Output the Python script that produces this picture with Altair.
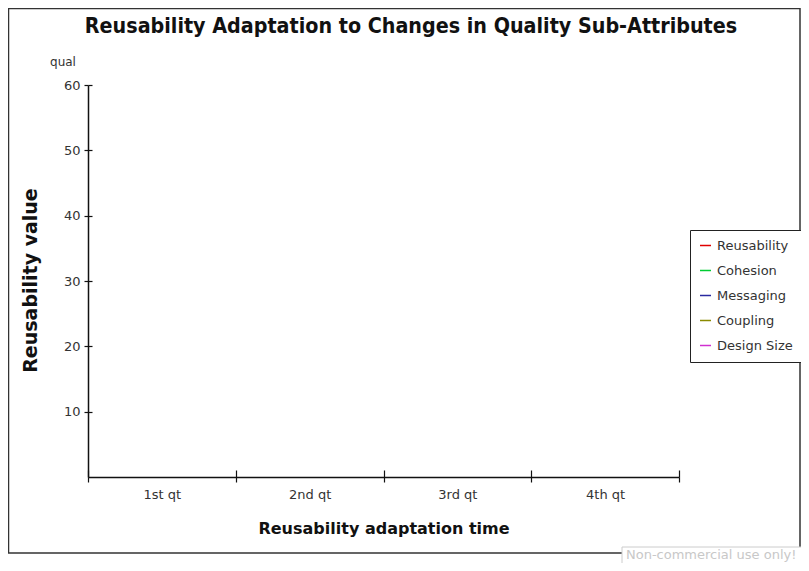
import altair as alt
import pandas as pd

TITLE = "Reusability Adaptation to Changes in Quality Sub-Attributes"
CATEGORIES = ["1st qt", "2nd qt", "3rd qt", "4th qt"]
SERIES = ["Reusability", "Cohesion", "Messaging", "Coupling", "Design Size"]
COLORS = ["#e00000", "#00cc33", "#2a2aa0", "#8a8a00", "#d030d0"]
# The reference chart shows no plotted lines: every series is empty.
REUSABILITY = [None, None, None, None]
COHESION = [None, None, None, None]
MESSAGING = [None, None, None, None]
COUPLING = [None, None, None, None]
DESIGN_SIZE = [None, None, None, None]
Y_TICKS = [10, 20, 30, 40, 50, 60]
Y_DOMAIN = [0, 60]
Y_TITLE = "Reusability value"
X_TITLE = "Reusability adaptation time"
UNIT_LABEL = "qual"
WATERMARK = "Non-commercial use only!"

values = [REUSABILITY, COHESION, MESSAGING, COUPLING, DESIGN_SIZE]
rows = []
for s, vals in zip(SERIES, values):
    for c, v in zip(CATEGORIES, vals):
        rows.append({"quarter": c, "series": s, "value": v})
df = pd.DataFrame(rows)
one = pd.DataFrame({"k": [0]})

W, H = 591, 392
FONT = "DejaVu Sans"
TITLE_FONT = "'DejaVu Sans Condensed', 'Liberation Sans Narrow', 'Liberation Sans', sans-serif"

xscale = alt.Scale(type="band", domain=CATEGORIES, paddingInner=0, paddingOuter=0)
yscale = alt.Scale(domain=Y_DOMAIN, nice=False, zero=True)

lines = alt.Chart(df).mark_line(strokeWidth=2).encode(
    x=alt.X("quarter:N", sort=CATEGORIES, scale=xscale,
            axis=alt.Axis(orient="bottom", tickBand="extent", tickSize=5, tickColor="#111",
                          domainColor="#111", domainWidth=1.5, tickWidth=1.2,
                          labelAngle=0, labelFont=FONT, labelFontSize=13, labelColor="#333",
                          labelPadding=6, title=X_TITLE, titleFont=FONT, titleFontSize=16,
                          titleFontWeight="bold", titleColor="#111", titleBaseline="middle",
                          titleY=51, grid=False)),
    y=alt.Y("value:Q", scale=yscale,
            axis=alt.Axis(orient="left", values=Y_TICKS, tickSize=4, tickColor="#111",
                          domainColor="#111", domainWidth=1.5, tickWidth=1.2,
                          labelFont=FONT, labelFontSize=13, labelColor="#333", labelPadding=4,
                          title=Y_TITLE, titleFont=FONT, titleFontSize=19,
                          titleFontWeight="bold", titleColor="#111", titleBaseline="middle",
                          titleX=-58, titleY=195, titleAngle=270, grid=False)),
    color=alt.Color("series:N", scale=alt.Scale(domain=SERIES, range=COLORS),
                    legend=alt.Legend(orient="none", legendX=602, legendY=145, title=None,
                                      symbolType="stroke", symbolSize=121, symbolStrokeWidth=1.5,
                                      labelFont=FONT, labelFontSize=13, labelColor="#333",
                                      labelOffset=5, rowPadding=11, padding=9,
                                      strokeColor="#222", fillColor="white")),
)

inner_ticks = alt.Chart(df).mark_line(opacity=0).encode(
    x=alt.X("quarter:N", sort=CATEGORIES, scale=xscale,
            axis=alt.Axis(orient="top", offset=-H, tickBand="extent", tickSize=7,
                          tickColor="#111", tickWidth=1.2, labels=False, domain=False,
                          title=None, grid=False)),
    y=alt.Y("value:Q", scale=yscale,
            axis=alt.Axis(orient="right", offset=-W, values=Y_TICKS, tickSize=4,
                          tickColor="#111", tickWidth=1.2, labels=False, domain=False,
                          title=None, grid=False)),
)

border = alt.Chart(one).mark_rect(fill=None, stroke="#333", strokeWidth=1.5).encode(
    x=alt.value(-79.5), x2=alt.value(712), y=alt.value(-76.5), y2=alt.value(468)
)

title = alt.Chart(one).mark_text(font=TITLE_FONT, fontSize=21.3, fontWeight="bold",
                                 color="#111", baseline="middle").encode(
    x=alt.value(323), y=alt.value(-58), text=alt.value(TITLE)
)

unit = alt.Chart(one).mark_text(font=FONT, fontSize=12, color="#333").encode(
    x=alt.value(-25), y=alt.value(-23), text=alt.value(UNIT_LABEL)
)

wm_box = alt.Chart(one).mark_rect(fill="white", stroke="#ccc", strokeWidth=1).encode(
    x=alt.value(534), x2=alt.value(716), y=alt.value(462), y2=alt.value(484)
)
wm_text = alt.Chart(one).mark_text(font=FONT, fontSize=13, color="#c8c8c8", align="left",
                                   baseline="middle").encode(
    x=alt.value(538), y=alt.value(470), text=alt.value(WATERMARK)
)

chart = alt.layer(border, title, lines, inner_ticks, unit, wm_box, wm_text).resolve_axis(
    x="independent", y="independent"
).properties(
    width=W, height=H,
    padding={"left": 80, "top": 77, "right": 122, "bottom": 86},
    autosize=alt.AutoSizeParams(type="none"),
    background="white",
).configure_view(stroke=None)

chart.save("out.html", embed_options={"renderer": "svg", "actions": False})
